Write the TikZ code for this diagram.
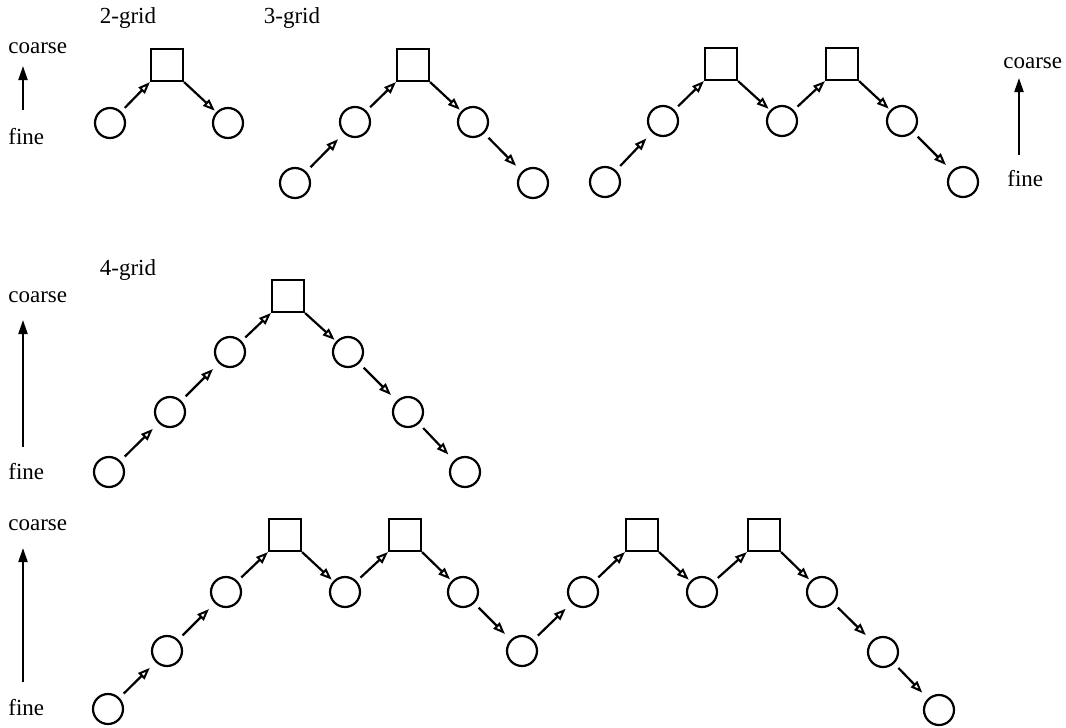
\documentclass[tikz,border=0pt]{standalone}
\usepackage{fontspec}
\setmainfont{Liberation Serif}
\usetikzlibrary{arrows.meta}
\begin{document}
\begin{tikzpicture}[x=0.5pt,y=-0.5pt,
  lvl/.style={circle,draw,line width=1.1pt,minimum size=15pt,inner sep=0pt},
  crs/.style={rectangle,draw,line width=1.1pt,minimum size=16pt,inner sep=0pt},
  lab/.style={anchor=west,inner sep=0pt,font=\fontsize{11.5pt}{13pt}\selectfont},
  ttl/.style={inner sep=0pt,font=\fontsize{11.5pt}{13pt}\selectfont},
  up/.style={line width=1.1pt,-{Triangle[open,length=6pt,width=4.4pt,line width=1pt]},shorten <=2.5pt},
  dn/.style={line width=1.1pt,-{Triangle[open,length=6pt,width=4.4pt,line width=1pt]},shorten >=1pt},
  cc/.style={line width=1.1pt,-{Triangle[open,length=6pt,width=4.4pt,line width=1pt]},shorten <=3pt,shorten >=4pt},
  axis/.style={line width=1.1pt,-{Triangle[length=7pt,width=4.5pt]}}]
\useasboundingbox (0,0) rectangle (1066,728);

% ---------- Row 1: 2-grid ----------
\node[ttl] (t2) at (128,18) {2-grid};
\node[lab] (co1) at (8,48) {coarse};
\node[lab] (fi1) at (8,137) {fine};
\coordinate (ab1) at (23,110);
\coordinate (at1) at (23,66);
\draw[axis] (ab1) -- (at1);

\node[lvl] (a1) at (110,123) {};
\node[crs] (a2) at (167,65) {};
\node[lvl] (a3) at (228,123) {};
\draw[up] (a1) -- (a2.south west);
\draw[dn] (a2.south east) -- (a3);

% ---------- Row 1: 3-grid ----------
\node[ttl] (t3) at (292,18) {3-grid};
\node[lvl] (b1) at (295,183) {};
\node[lvl] (b2) at (355,122) {};
\node[crs] (b3) at (413,65) {};
\node[lvl] (b4) at (473,122) {};
\node[lvl] (b5) at (533,183) {};
\draw[cc] (b1) -- (b2);
\draw[up] (b2) -- (b3.south west);
\draw[dn] (b3.south east) -- (b4);
\draw[cc] (b4) -- (b5);

% ---------- Row 1: W-cycle ----------
\node[lvl] (c1) at (605,182) {};
\node[lvl] (c2) at (663,121) {};
\node[crs] (c3) at (721,64) {};
\node[lvl] (c4) at (782,121) {};
\node[crs] (c5) at (842,64) {};
\node[lvl] (c6) at (902,121) {};
\node[lvl] (c7) at (963,182) {};
\draw[cc] (c1) -- (c2);
\draw[up] (c2) -- (c3.south west);
\draw[dn] (c3.south east) -- (c4);
\draw[up] (c4) -- (c5.south west);
\draw[dn] (c5.south east) -- (c6);
\draw[cc] (c6) -- (c7);

\node[lab] (co2) at (1003,63) {coarse};
\node[lab] (fi2) at (1007,179) {fine};
\coordinate (ab2) at (1019,155);
\coordinate (at2) at (1019,78);
\draw[axis] (ab2) -- (at2);

% ---------- Row 2: 4-grid ----------
\node[ttl] (t4) at (128,270) {4-grid};
\node[lab] (co3) at (8,297) {coarse};
\node[lab] (fi3) at (8,472) {fine};
\coordinate (ab3) at (23,447);
\coordinate (at3) at (23,320);
\draw[axis] (ab3) -- (at3);

\node[lvl] (d1) at (109,472) {};
\node[lvl] (d2) at (170,412) {};
\node[lvl] (d3) at (230,352) {};
\node[crs] (d4) at (288,296) {};
\node[lvl] (d5) at (348,352) {};
\node[lvl] (d6) at (408,412) {};
\node[lvl] (d7) at (465,472) {};
\draw[cc] (d1) -- (d2);
\draw[cc] (d2) -- (d3);
\draw[up] (d3) -- (d4.south west);
\draw[dn] (d4.south east) -- (d5);
\draw[cc] (d5) -- (d6);
\draw[cc] (d6) -- (d7);

% ---------- Row 3: W-cycle, 4 grids ----------
\node[lab] (co4) at (8,525) {coarse};
\node[lab] (fi4) at (8,708) {fine};
\coordinate (ab4) at (23,682);
\coordinate (at4) at (23,548);
\draw[axis] (ab4) -- (at4);

\node[lvl] (e1) at (108,709) {};
\node[lvl] (e2) at (167,651) {};
\node[lvl] (e3) at (226,592) {};
\node[crs] (e4) at (285,535) {};
\node[lvl] (e5) at (345,592) {};
\node[crs] (e6) at (405,535) {};
\node[lvl] (e7) at (463,592) {};
\node[lvl] (e8) at (522,651) {};
\node[lvl] (e9) at (583,592) {};
\node[crs] (e10) at (642,535) {};
\node[lvl] (e11) at (702,592) {};
\node[crs] (e12) at (764,535) {};
\node[lvl] (e13) at (822,592) {};
\node[lvl] (e14) at (883,652) {};
\node[lvl] (e15) at (939,710) {};
\draw[cc] (e1) -- (e2);
\draw[cc] (e2) -- (e3);
\draw[up] (e3) -- (e4.south west);
\draw[dn] (e4.south east) -- (e5);
\draw[up] (e5) -- (e6.south west);
\draw[dn] (e6.south east) -- (e7);
\draw[cc] (e7) -- (e8);
\draw[cc] (e8) -- (e9);
\draw[up] (e9) -- (e10.south west);
\draw[dn] (e10.south east) -- (e11);
\draw[up] (e11) -- (e12.south west);
\draw[dn] (e12.south east) -- (e13);
\draw[cc] (e13) -- (e14);
\draw[cc] (e14) -- (e15);
\end{tikzpicture}
\end{document}
